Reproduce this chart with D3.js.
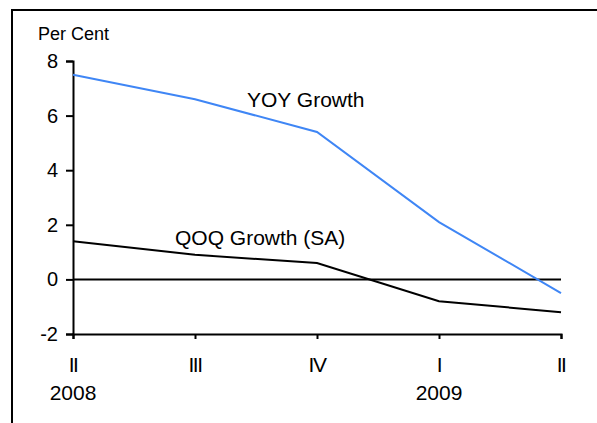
<!DOCTYPE html>
<html>
<head>
<meta charset="utf-8">
<script src="https://cdn.jsdelivr.net/npm/d3@7"></script>
<style>
 body { margin: 0; background: #fff; }
 svg text { font-family: "Liberation Sans", Arial, sans-serif; fill: #000; }
</style>
</head>
<body>
<div id="chart"></div>
<script>
// quarters and the two growth series
const quarters = ["2008Q2", "2008Q3", "2008Q4", "2009Q1", "2009Q2"];
const quarterLabels = ["II", "III", "IV", "I", "II"];
const yearLabels = ["2008", "", "", "2009", ""];
const yoyGrowth = [7.5, 6.6, 5.4, 2.1, -0.5];
const qoqGrowth = [1.4, 0.9, 0.6, -0.8, -1.2];
const yTicks = [-2, 0, 2, 4, 6, 8];

const W = 597, H = 423;
const svg = d3.select("#chart").append("svg")
 .attr("width", W)
 .attr("height", H);

// outer frame (runs off the right and bottom)
svg.append("rect")
 .attr("x", 12).attr("y", 10)
 .attr("width", W).attr("height", H)
 .attr("fill", "none")
 .attr("stroke", "#000")
 .attr("stroke-width", 2);

const x = d3.scalePoint().domain(quarters).range([73, 561]);
const y = d3.scaleLinear().domain([-2, 8]).range([334, 61]);

// y axis
const yAxis = svg.append("g")
 .attr("transform", "translate(73,0)")
 .call(d3.axisLeft(y).tickValues(yTicks).tickSize(7).tickPadding(8)
   .tickFormat(function (d) { return String(d); }));
yAxis.selectAll("text").style("font-size", "20px");

// x axis at the bottom (y = -2)
const xAxis = svg.append("g")
 .attr("transform", "translate(0," + y(-2) + ")")
 .call(d3.axisBottom(x).tickSize(5).tickFormat(""));

[yAxis, xAxis].forEach(function (g) {
 g.select(".domain").attr("stroke-width", 2);
 g.selectAll(".tick line").attr("stroke-width", 2);
});

// quarter and year labels
svg.append("g").selectAll("text")
 .data(quarters)
 .enter()
 .append("text")
 .attr("x", function (d) { return x(d); })
 .attr("y", 372)
 .attr("text-anchor", "middle")
 .style("font-size", "21px")
 .style("letter-spacing", "-1.5px")
 .text(function (d, i) { return quarterLabels[i]; });

svg.append("g").selectAll("text")
 .data(quarters)
 .enter()
 .append("text")
 .attr("x", function (d) { return x(d); })
 .attr("y", 400)
 .attr("text-anchor", "middle")
 .style("font-size", "21px")
 .text(function (d, i) { return yearLabels[i]; });

// zero line
svg.append("line")
 .attr("x1", x(quarters[0])).attr("x2", x(quarters[quarters.length - 1]))
 .attr("y1", y(0)).attr("y2", y(0))
 .attr("stroke", "#000")
 .attr("stroke-width", 2);

const line = d3.line()
 .x(function (d, i) { return x(quarters[i]); })
 .y(function (d) { return y(d); });

svg.append("path")
 .datum(qoqGrowth)
 .attr("d", line)
 .attr("fill", "none")
 .attr("stroke", "#000")
 .attr("stroke-width", 2);

svg.append("path")
 .datum(yoyGrowth)
 .attr("d", line)
 .attr("fill", "none")
 .attr("stroke", "#3f86f5")
 .attr("stroke-width", 2);

// labels
svg.append("text")
 .attr("x", 38).attr("y", 40)
 .style("font-size", "18px")
 .text("Per Cent");

svg.append("text")
 .attr("x", 247).attr("y", 107)
 .style("font-size", "21px")
 .text("YOY Growth");

svg.append("text")
 .attr("x", 175).attr("y", 245)
 .style("font-size", "21px")
 .text("QOQ Growth (SA)");
</script>
</body>
</html>
